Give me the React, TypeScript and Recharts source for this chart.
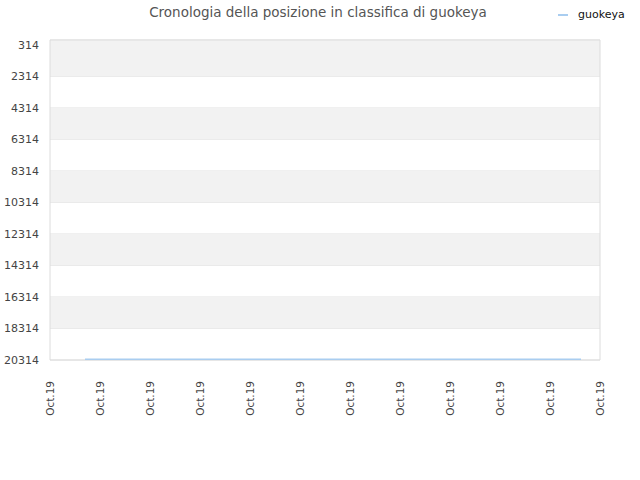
import { Line, LineChart, ReferenceArea, XAxis, YAxis, CartesianGrid } from "recharts";

const xTicks = [0, 1, 2, 3, 4, 5, 6, 7, 8, 9, 10, 11];
const xTickLabels = ["Oct.19", "Oct.19", "Oct.19", "Oct.19", "Oct.19", "Oct.19", "Oct.19", "Oct.19", "Oct.19", "Oct.19", "Oct.19", "Oct.19"];
const yTicks = [314, 2314, 4314, 6314, 8314, 10314, 12314, 14314, 16314, 18314, 20314];
const bandStarts = [0, 4314, 8314, 12314, 16314];
const bandEnds = [2314, 6314, 10314, 14314, 18314];
const dayPos = [0.7, 2, 4, 6, 8, 10, 10.62];
const rank = [20260, 20260, 20260, 20260, 20260, 20260, 20260];

const data = dayPos.map((d, i) => ({ day: d, rank: rank[i] }));

function XTick(props: any) {
  const { x, y, payload } = props;
  return (
    <text
      x={0}
      y={0}
      transform={`translate(${x + 4},${y + 13}) rotate(-90)`}
      textAnchor="end"
      fontSize={10.5}
      fill="#444"
      fontFamily="DejaVu Sans"
    >
      {xTickLabels[payload.index] ?? xTickLabels[0]}
    </text>
  );
}

export default function App() {
  return (
    <div style={{ position: "absolute", left: 0, top: 0, width: 640, height: 480, background: "#fff" }}>
      <div
        style={{
          position: "absolute",
          top: 4,
          left: 0,
          width: 636,
          textAlign: "center",
          fontFamily: "DejaVu Sans",
          fontSize: 13.5,
          color: "#555",
        }}
      >
        Cronologia della posizione in classifica di guokeya
      </div>
      <div
        style={{
          position: "absolute",
          top: 8,
          left: 558,
          display: "flex",
          alignItems: "center",
          fontFamily: "DejaVu Sans",
          fontSize: 11,
          color: "#111",
        }}
      >
        <span style={{ display: "inline-block", width: 10, height: 2, background: "#a9cdf0", marginRight: 10 }} />
        guokeya
      </div>
      <LineChart width={640} height={480} data={data} margin={{ top: 40, right: 40, bottom: 60, left: 0 }}>
        {bandStarts.map((s, i) => (
          <ReferenceArea key={i} y1={s} y2={bandEnds[i]} x1={0} x2={11} fill="#f2f2f2" fillOpacity={1} stroke="none" ifOverflow="visible" />
        ))}
        <CartesianGrid vertical={false} stroke="#e3e3e3" />
        <ReferenceArea y1={0} y2={20314} x1={0} x2={11} fill="none" stroke="#dcdcdc" ifOverflow="visible" />
        <XAxis
          dataKey="day"
          type="number"
          domain={[0, 11]}
          ticks={xTicks}
          interval={0}
          height={60}
          axisLine={false}
          tickLine={false}
          tick={<XTick />}
        />
        <YAxis
          type="number"
          reversed
          domain={[0, 20314]}
          ticks={yTicks}
          interval={0}
          width={50}
          axisLine={false}
          tickLine={false}
          tickSize={0}
          tickMargin={11}
          tick={{ fontSize: 11, fill: "#444", fontFamily: "DejaVu Sans" }}
        />
        <Line
          type="linear"
          dataKey="rank"
          name="guokeya"
          stroke="#a9cdf0"
          strokeWidth={1.5}
          dot={false}
          isAnimationActive={false}
        />
      </LineChart>
    </div>
  );
}
